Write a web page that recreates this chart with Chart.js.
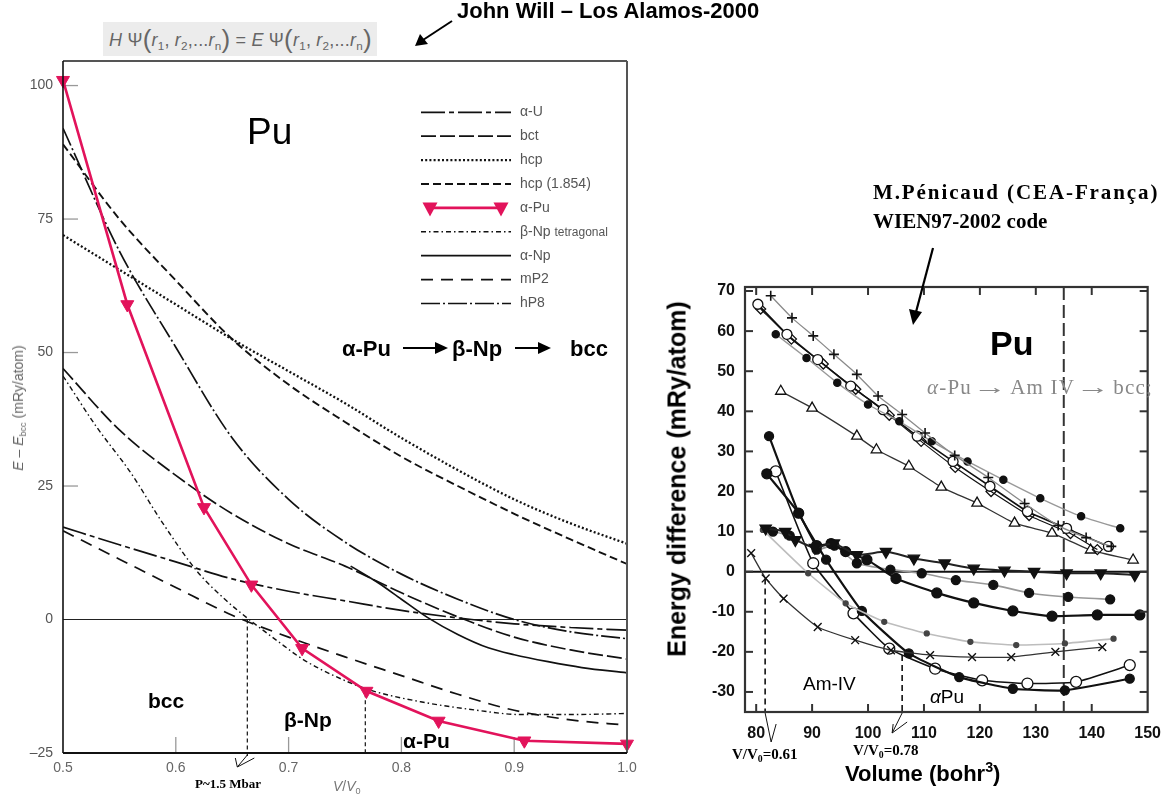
<!DOCTYPE html>
<html><head><meta charset="utf-8">
<script src="https://cdn.jsdelivr.net/npm/chart.js@4.4.1/dist/chart.umd.min.js"></script>
<style>
html,body{margin:0;padding:0;background:#fff;}
#wrap{position:relative;width:1173px;height:801px;overflow:hidden;font-family:'Liberation Sans',Arial,sans-serif;}
canvas{position:absolute;top:0;}
.t{position:absolute;white-space:nowrap;line-height:1;}
.b{font-weight:bold;}
.serif{font-family:'Liberation Serif','Times New Roman',serif;}
.rot{position:absolute;white-space:nowrap;line-height:1;transform:translate(-50%,-50%) rotate(-90deg);}
sub{font-size:0.65em;vertical-align:-0.3em;line-height:0;}
sup{font-size:0.65em;vertical-align:0.6em;line-height:0;}
.arr{position:absolute;height:2px;background:#000;}
.arr::after{content:'';position:absolute;right:-3px;top:-5px;border-left:13px solid #000;border-top:6px solid transparent;border-bottom:6px solid transparent;}
#eq{position:absolute;left:103px;top:22px;width:274px;height:34px;background:#ececec;color:#666;font-size:18px;line-height:34px;white-space:nowrap;padding-left:6px;box-sizing:border-box;letter-spacing:0.2px;}
#eq .p{font-size:26px;font-weight:300;vertical-align:-2px;}
.ra{display:inline-block;margin:0 8px;transform:scaleX(1.6);}
</style></head><body>
<div id="wrap">
<canvas id="cL" width="660" height="801" style="left:0;width:660px;height:801px"></canvas>
<canvas id="cR" width="533" height="801" style="left:640px;width:533px;height:801px"></canvas>

<div class="t b" style="left:457px;top:0px;font-size:22px">John Will – Los Alamos-2000</div>
<div id="eq"><i>H</i> Ψ<span class="p">(</span><i>r</i><sub>1</sub>, <i>r</i><sub>2</sub>,...<i>r</i><sub>n</sub><span class="p">)</span> = <i>E</i> Ψ<span class="p">(</span><i>r</i><sub>1</sub>, <i>r</i><sub>2</sub>,...<i>r</i><sub>n</sub><span class="p">)</span></div>
<div class="t" style="left:247px;top:113px;font-size:37px">Pu</div>
<div class="t b" style="left:342px;top:338px;font-size:22px">α-Pu</div>
<div class="arr" style="left:403px;top:347px;width:42px"></div>
<div class="t b" style="left:452px;top:338px;font-size:22px">β-Np</div>
<div class="arr" style="left:515px;top:347px;width:33px"></div>
<div class="t b" style="left:570px;top:338px;font-size:22px">bcc</div>
<div class="rot" style="left:18px;top:408px;font-size:14px;color:#666"><i>E</i> – <i>E</i><sub>bcc</sub> (mRy/atom)</div>
<div class="t" style="left:333px;top:779px;font-size:14px;color:#777"><i>V</i>/<i>V</i><sub>0</sub></div>
<div class="t b serif" style="left:195px;top:777px;font-size:13px">P~1.5 Mbar</div>
<div class="t b" style="left:148px;top:690px;font-size:21px">bcc</div>
<div class="t b" style="left:284px;top:709px;font-size:21px">β-Np</div>
<div class="t b" style="left:403px;top:730px;font-size:21px">α-Pu</div>

<div class="t b serif" style="left:873px;top:182px;font-size:21px;letter-spacing:1.9px">M.Pénicaud (CEA-França)</div>
<div class="t b serif" style="left:873px;top:211px;font-size:21px">WIEN97-2002 code</div>
<div class="t b" style="left:990px;top:326px;font-size:34px">Pu</div>
<div class="t serif" style="left:927px;top:377px;font-size:21px;color:#888;letter-spacing:1.2px"><i>α</i>-Pu<span class="ra">→</span>Am IV<span class="ra">→</span>bcc;</div>
<div class="t" style="left:803px;top:674px;font-size:19px">Am-IV</div>
<div class="t" style="left:930px;top:687px;font-size:19px"><i>α</i>Pu</div>
<div class="t b serif" style="left:732px;top:747px;font-size:15px">V/V<sub>0</sub>=0.61</div>
<div class="t b serif" style="left:853px;top:743px;font-size:15px">V/V<sub>0</sub>=0.78</div>
<div class="t b" style="left:845px;top:763px;font-size:22px">Volume (bohr<sup>3</sup>)</div>
<div class="rot b" style="left:677px;top:479px;font-size:25px">Energy difference (mRy/atom)</div>
</div>
<script>
// ---------- Left chart: J. Wills, E - Ebcc vs V/V0 ----------
const vGrid    = [0.50,0.55,0.60,0.65,0.70,0.75,0.80,0.85,0.90,0.95,1.00];
const eAlphaU  = [17.3,14.0,10.8,7.6,5.3,3.5,1.7,0.3,-0.8,-1.5,-2.0];
const eBct     = [47.0,35.5,27.0,19.8,14.2,10.0,5.0,0.5,-3.3,-5.7,-7.4];
const eHcp     = [72.0,65.5,59.0,52.5,46.5,40.5,34.0,28.0,22.5,18.0,14.2];
const eHcp1854 = [89.0,75.0,63.5,52.5,44.0,37.0,30.5,25.0,19.8,15.0,10.4];
const eMP2     = [16.6,11.3,6.0,0.8,-3.3,-7.0,-10.5,-14.0,-17.0,-18.8,-19.8];
const eHP8     = [92.0,69.0,51.0,34.0,22.5,14.5,8.5,3.8,0.0,-2.3,-3.6];
const vAlphaPu = [0.500,0.557,0.625,0.667,0.712,0.769,0.833,0.909,1.000];
const eAlphaPu = [101.0,59.0,21.0,6.5,-5.4,-13.4,-19.0,-22.7,-23.3];
const vBetaNp  = [0.50,0.53,0.56,0.587,0.619,0.645,0.665,0.69,0.713,0.74,0.772,0.817,0.86,0.907,0.95,1.00];
const eBetaNp  = [45.6,36.0,27.5,18.5,9.0,3.5,0.0,-4.0,-7.5,-10.5,-13.2,-15.4,-16.8,-17.8,-17.8,-17.6];
const vAlphaNp = [0.755,0.78,0.80,0.823,0.85,0.877,0.90,0.93,0.96,1.00];
const eAlphaNp = [10.0,6.8,3.8,0.4,-2.8,-5.3,-6.6,-7.9,-9.0,-10.0];
const xTicksL  = [0.5,0.6,0.7,0.8,0.9,1.0];
const yTicksL  = [-25,0,25,50,75,100];
const legendL  = ['α-U','bct','hcp','hcp (1.854)','α-Pu','β-Np','α-Np','mP2','hP8'];
const vPress = 0.6634, vTrans = 0.768, eTrans = -13.8;

// ---------- Right chart: M. Pénicaud, Energy difference vs Volume ----------
const vPlus  = [82.6,86.4,90.2,93.9,98.0,101.8,106.1,110.2,115.5,121.5,128.0,134.0,139.0,143.5];
const ePlus  = [68.8,63.3,58.8,54.2,49.2,43.8,39.2,34.6,29.0,23.5,17.0,11.5,8.5,6.3];
const vDot   = [83.5,89.0,94.5,100.0,105.6,111.4,117.8,124.2,130.8,138.1,145.1];
const eDot   = [59.2,53.3,47.1,41.7,37.5,32.5,27.5,22.9,18.3,13.8,10.8];
const vOpen  = [80.3,85.5,91.0,96.9,102.7,108.8,115.2,121.8,128.5,135.5,143.0];
const eOpen  = [66.7,59.2,52.9,46.3,40.4,33.8,27.5,21.3,15.0,10.8,6.3];
const vDiam  = [80.8,86.3,92.0,97.8,103.8,109.5,115.6,122.0,128.8,136.2,141.0];
const eDiam  = [65.5,58.0,51.8,45.5,39.0,32.5,26.0,20.0,14.0,9.5,5.5];
const vTri   = [84.4,90.0,98.0,101.5,107.3,113.1,119.5,126.2,132.9,139.8,147.4];
const eTri   = [45.0,40.8,33.8,30.4,26.3,21.1,17.1,12.1,9.6,5.4,2.9];
const vDown  = [81.7,85.2,87.0,90.5,93.9,98.0,103.2,108.2,113.7,118.9,124.4,129.7,135.5,141.6,147.7];
const eDown  = [10.8,10.0,7.9,6.0,7.1,4.2,5.0,3.3,2.1,0.8,0.3,0.0,-0.4,-0.4,-0.8];
const vClubA = [81.9,87.6,90.8,93.4,96.0,99.8,105.0,112.3,118.9,125.9,132.9,141.0,148.6];
const eClubA = [24.4,14.6,6.5,7.0,5.0,3.0,-1.7,-5.3,-7.8,-9.8,-11.1,-10.8,-10.8];
const vClubB = [83.0,86.0,90.8,94.0,98.0,104.0,109.6,115.7,122.4,128.8,135.8,143.3];
const eClubB = [10.0,9.0,5.5,6.5,2.1,0.5,-0.4,-2.1,-3.3,-5.3,-6.3,-6.9];
const vSmall = [81.2,89.3,96.0,102.9,110.5,118.3,126.5,135.2,143.9];
const eSmall = [10.4,-0.4,-7.9,-12.5,-15.4,-17.5,-18.3,-17.9,-16.7];
const vX     = [79.1,81.7,84.9,91.0,97.7,104.1,111.1,118.6,125.6,133.5,141.9];
const eX     = [4.6,-1.7,-6.7,-13.8,-17.1,-19.6,-20.8,-21.3,-21.3,-20.0,-18.8];
const vSteepF= [82.3,87.6,92.5,98.9,107.3,116.3,125.9,135.2,146.8];
const eSteepF= [33.8,14.6,3.0,-9.8,-20.4,-26.3,-29.2,-29.6,-26.7];
const vSteepO= [83.5,90.2,97.4,103.8,112.0,120.4,128.5,137.2,146.8];
const eSteepO= [25.0,2.1,-10.4,-19.2,-24.2,-27.1,-27.9,-27.5,-23.3];
const xTicksR = [80,90,100,110,120,130,140,150];
const yTicksR = [-30,-20,-10,0,10,20,30,40,50,60,70];
const vAmBcc = 135.0, vMark1 = 81.6, eMark1 = -1.7, vMark2 = 106.1, eMark2 = -20.8;

const RED = '#e2135b';
function pts(xs, ys){ return xs.map((x,i)=>({x:x, y:ys[i]})); }
function curve(label, xs, ys, dash, extra){
  return Object.assign({label, data: pts(xs,ys), borderColor:'#111', borderWidth:1.7, borderDash:dash,
    pointRadius:0, fill:false, cubicInterpolationMode:'monotone', borderCapStyle:'butt'}, extra||{});
}
function line(ctx,x1,y1,x2,y2){ ctx.beginPath(); ctx.moveTo(x1,y1); ctx.lineTo(x2,y2); ctx.stroke(); }
function downTri(ctx,cx,cy,w,h){ ctx.beginPath(); ctx.moveTo(cx-w/2,cy-h/2); ctx.lineTo(cx+w/2,cy-h/2); ctx.lineTo(cx,cy+h/2); ctx.closePath(); ctx.fill(); }

const leftDatasets = [
  curve(legendL[0], vGrid, eAlphaU, [24,4,5,4]),
  curve(legendL[1], vGrid, eBct, [15,4]),
  curve(legendL[2], vGrid, eHcp, [2,2.2], {borderWidth:2.3}),
  curve(legendL[3], vGrid, eHcp1854, [8,4], {borderWidth:1.9}),
  {label:legendL[4], data:pts(vAlphaPu,eAlphaPu), borderColor:RED, borderWidth:2.6, tension:0,
   pointStyle:'triangle', rotation:180, pointRadius:7.5, pointBackgroundColor:RED, pointBorderColor:RED,
   pointBorderWidth:1, clip:false, order:-1, fill:false},
  curve(legendL[5], vBetaNp, eBetaNp, [5,3,1.5,3], {borderWidth:1.4}),
  curve(legendL[6], vAlphaNp, eAlphaNp, [], {borderWidth:1.7}),
  curve(legendL[7], vGrid, eMP2, [12,8]),
  curve(legendL[8], vGrid, eHP8, [19,3,2,3])
];

const leftDeco = {
  id:'leftDeco',
  beforeDatasetsDraw(chart){
    const {ctx, chartArea:a, scales:{x,y}} = chart;
    ctx.save();
    ctx.strokeStyle='#222'; ctx.lineWidth=1.2;
    const y0 = y.getPixelForValue(0); line(ctx,a.left,y0,a.right,y0);
    ctx.strokeStyle='#999'; ctx.lineWidth=1.3;
    yTicksL.forEach(v=>{ if(v>0){ const py=y.getPixelForValue(v); line(ctx,a.left,py,a.left+15,py);} });
    xTicksL.forEach(v=>{ if(v>0.5 && v<1){ const px=x.getPixelForValue(v); line(ctx,px,a.bottom,px,a.bottom-16);} });
    ctx.setLineDash([4,3]); ctx.strokeStyle='#111'; ctx.lineWidth=1.2;
    [[vPress,0],[vTrans,eTrans]].forEach(([v,e])=>{ const px=x.getPixelForValue(v); line(ctx,px,y.getPixelForValue(e),px,a.bottom+3); });
    ctx.setLineDash([]);
    ctx.restore();
  },
  afterDatasetsDraw(chart){
    const {ctx, chartArea:a, scales:{x,y}} = chart;
    ctx.save();
    ctx.lineWidth=2; ctx.strokeStyle='#555';
    line(ctx,a.left,a.top,a.right,a.top); line(ctx,a.right,a.top,a.right,a.bottom);
    ctx.strokeStyle='#111'; ctx.lineWidth=1.6; line(ctx,a.left,a.top,a.left,a.bottom);
    ctx.lineWidth=2; line(ctx,a.left,a.bottom,a.right,a.bottom);
    const px = x.getPixelForValue(vPress), tipX = px-10, tipY = a.bottom+14;
    ctx.lineWidth=1; ctx.strokeStyle='#111';
    line(ctx,px,a.bottom+2,tipX,tipY); line(ctx,tipX,tipY,tipX-2,tipY-9); line(ctx,tipX,tipY,tipX+17,tipY-9);
    const ds = chart.data.datasets;
    ds.forEach((d,i)=>{
      const ly = 112.3 + i*23.9;
      ctx.save();
      ctx.strokeStyle=d.borderColor; ctx.lineWidth=d.borderWidth; ctx.setLineDash(d.borderDash||[]);
      if(d.label===legendL[4]){
        line(ctx,428,ly,503,ly); ctx.fillStyle=RED;
        downTri(ctx,430,ly+1.5,15,14); downTri(ctx,501,ly+1.5,15,14);
      } else { line(ctx,421,ly,511,ly); }
      ctx.restore();
      ctx.fillStyle='#555'; ctx.textBaseline='middle'; ctx.font='14px "Liberation Sans", Arial';
      if(d.label===legendL[5]){
        ctx.fillText(d.label,520,ly); const w=ctx.measureText(d.label+' ').width;
        ctx.font='12px "Liberation Sans", Arial'; ctx.fillText('tetragonal',520+w,ly+1);
      } else ctx.fillText(d.label,520,ly);
    });
    ctx.strokeStyle='#000'; ctx.fillStyle='#000'; ctx.lineWidth=2;
    line(ctx,452,21,423,40);
    ctx.beginPath(); ctx.moveTo(415,46); ctx.lineTo(420,34); ctx.lineTo(428,44); ctx.closePath(); ctx.fill();
    ctx.restore();
  }
};

new Chart(document.getElementById('cL'), {
  type:'line',
  data:{datasets:leftDatasets},
  options:{
    responsive:false, animation:false, devicePixelRatio:1,
    layout:{padding:{left:0,top:61,right:33,bottom:18}},
    plugins:{legend:{display:false}, tooltip:{enabled:false}},
    scales:{
      x:{type:'linear', min:0.5, max:1.0,
         afterBuildTicks:s=>{ s.ticks = xTicksL.map(v=>({value:v})); },
         afterFit:s=>{ s.height=30; },
         grid:{display:false, drawTicks:false}, border:{display:false},
         ticks:{font:{family:'Liberation Sans', size:14}, color:'#666', padding:7, maxRotation:0, autoSkip:false, callback:v=>Number(v).toFixed(1)}},
      y:{type:'linear', min:-25, max:104.6,
         afterBuildTicks:s=>{ s.ticks = yTicksL.map(v=>({value:v})); },
         afterFit:s=>{ s.width=63; },
         grid:{display:false, drawTicks:false}, border:{display:false},
         ticks:{font:{family:'Liberation Sans', size:14}, color:'#555', padding:10, autoSkip:false, callback:v=> v<0 ? '–'+Math.abs(v) : String(v)}}
    }
  },
  plugins:[leftDeco]
});

function mk(label, xs, ys, o){
  return Object.assign({label, data:pts(xs,ys), borderColor:'#111', borderWidth:1.4, tension:0.15, fill:false,
    pointRadius:4, pointBorderColor:'#111', pointBackgroundColor:'#111', pointBorderWidth:1.3}, o);
}
const rightDatasets = [
  mk('plus', vPlus, ePlus, {borderColor:'#8a8a8a', borderWidth:1.3, pointStyle:'cross', pointRadius:5, pointBorderWidth:1.6}),
  mk('dot', vDot, eDot, {borderColor:'#999', borderWidth:1.4, pointStyle:'circle', pointRadius:3.6}),
  mk('open', vOpen, eOpen, {borderWidth:1.6, pointStyle:'circle', pointRadius:5, pointBackgroundColor:'#fff'}),
  mk('diamond', vDiam, eDiam, {borderWidth:1.2, pointStyle:'rectRot', pointRadius:5, pointBackgroundColor:'rgba(255,255,255,0)'}),
  mk('triangle', vTri, eTri, {borderColor:'#333', borderWidth:1.3, pointStyle:'triangle', pointRadius:6, pointBackgroundColor:'#fff'}),
  mk('downtri', vDown, eDown, {borderColor:'#222', borderWidth:2, pointStyle:'triangle', rotation:180, pointRadius:6.5}),
  mk('clubA', vClubA, eClubA, {borderColor:'#111', borderWidth:2.2, pointStyle:'circle', pointRadius:5}),
  mk('clubB', vClubB, eClubB, {borderColor:'#999', borderWidth:1.6, pointStyle:'circle', pointRadius:4.5}),
  mk('small', vSmall, eSmall, {borderColor:'#bdbdbd', borderWidth:1.6, pointStyle:'circle', pointRadius:2.5, pointBackgroundColor:'#444', pointBorderColor:'#444'}),
  mk('cross', vX, eX, {borderColor:'#333', borderWidth:1.3, pointStyle:'crossRot', pointRadius:5.5, pointBorderWidth:1.4}),
  mk('steepF', vSteepF, eSteepF, {borderColor:'#111', borderWidth:2.2, pointStyle:'circle', pointRadius:4.5}),
  mk('steepO', vSteepO, eSteepO, {borderColor:'#111', borderWidth:1.6, pointStyle:'circle', pointRadius:5.5, pointBackgroundColor:'#fff'})
];

const rightDeco = {
  id:'rightDeco',
  beforeDatasetsDraw(chart){
    const {ctx, chartArea:a, scales:{x,y}} = chart;
    ctx.save();
    ctx.strokeStyle='#111'; ctx.lineWidth=2;
    const y0=y.getPixelForValue(0); line(ctx,a.left,y0,a.right,y0);
    ctx.setLineDash([13,5]); ctx.strokeStyle='#333'; ctx.lineWidth=2;
    const pb=x.getPixelForValue(vAmBcc); line(ctx,pb,a.top,pb,a.bottom);
    ctx.setLineDash([6,4]); ctx.strokeStyle='#111'; ctx.lineWidth=1.6;
    [[vMark1,eMark1],[vMark2,eMark2]].forEach(([v,e])=>{ const px=x.getPixelForValue(v); line(ctx,px,y.getPixelForValue(e),px,a.bottom); });
    ctx.setLineDash([]);
    ctx.restore();
  },
  afterDatasetsDraw(chart){
    const {ctx, chartArea:a, scales:{x,y}} = chart;
    ctx.save();
    ctx.strokeStyle='#333'; ctx.lineWidth=2.2;
    ctx.strokeRect(a.left,a.top,a.right-a.left,a.bottom-a.top);
    ctx.lineWidth=2;
    xTicksR.forEach(v=>{ const px=x.getPixelForValue(v); if(px>a.left+2 && px<a.right-2){ line(ctx,px,a.bottom,px,a.bottom-8); line(ctx,px,a.top,px,a.top+8);} });
    yTicksR.forEach(v=>{ const py=y.getPixelForValue(v); if(py>a.top+2 && py<a.bottom-2){ line(ctx,a.left,py,a.left+8,py); line(ctx,a.right,py,a.right-8,py);} });
    ctx.strokeStyle='#111'; ctx.lineWidth=1;
    const p1=x.getPixelForValue(vMark1), t1x=p1+6, t1y=a.bottom+30;
    line(ctx,p1,a.bottom+1,t1x,t1y); line(ctx,p1+11,a.bottom+12,t1x,t1y);
    const p2=x.getPixelForValue(vMark2), t2x=p2-10, t2y=a.bottom+21;
    line(ctx,p2,a.bottom+1,t2x,t2y); line(ctx,t2x,t2y,t2x+1,t2y-9); line(ctx,t2x,t2y,t2x+15,t2y-11);
    ctx.strokeStyle='#000'; ctx.fillStyle='#000'; ctx.lineWidth=2.2;
    line(ctx,293,248,276,312);
    ctx.beginPath(); ctx.moveTo(273,325); ctx.lineTo(269,309); ctx.lineTo(282,312); ctx.closePath(); ctx.fill();
    ctx.restore();
  }
};

new Chart(document.getElementById('cR'), {
  type:'line',
  data:{datasets:rightDatasets},
  options:{
    responsive:false, animation:false, devicePixelRatio:1,
    layout:{padding:{left:0,top:287,right:15,bottom:59}},
    plugins:{legend:{display:false}, tooltip:{enabled:false}},
    scales:{
      x:{type:'linear', min:78, max:150,
         afterBuildTicks:s=>{ s.ticks = xTicksR.map(v=>({value:v})); },
         afterFit:s=>{ s.height=30; },
         grid:{display:false, drawTicks:false}, border:{display:false},
         ticks:{font:{family:'Liberation Sans', size:16, weight:'bold'}, color:'#111', padding:12, maxRotation:0, autoSkip:false}},
      y:{type:'linear', min:-35, max:71,
         afterBuildTicks:s=>{ s.ticks = yTicksR.map(v=>({value:v})); },
         afterFit:s=>{ s.width=105; },
         grid:{display:false, drawTicks:false}, border:{display:false},
         ticks:{font:{family:'Liberation Sans', size:16, weight:'bold'}, color:'#111', padding:10, autoSkip:false}}
    }
  },
  plugins:[rightDeco]
});
</script>
</body></html>
